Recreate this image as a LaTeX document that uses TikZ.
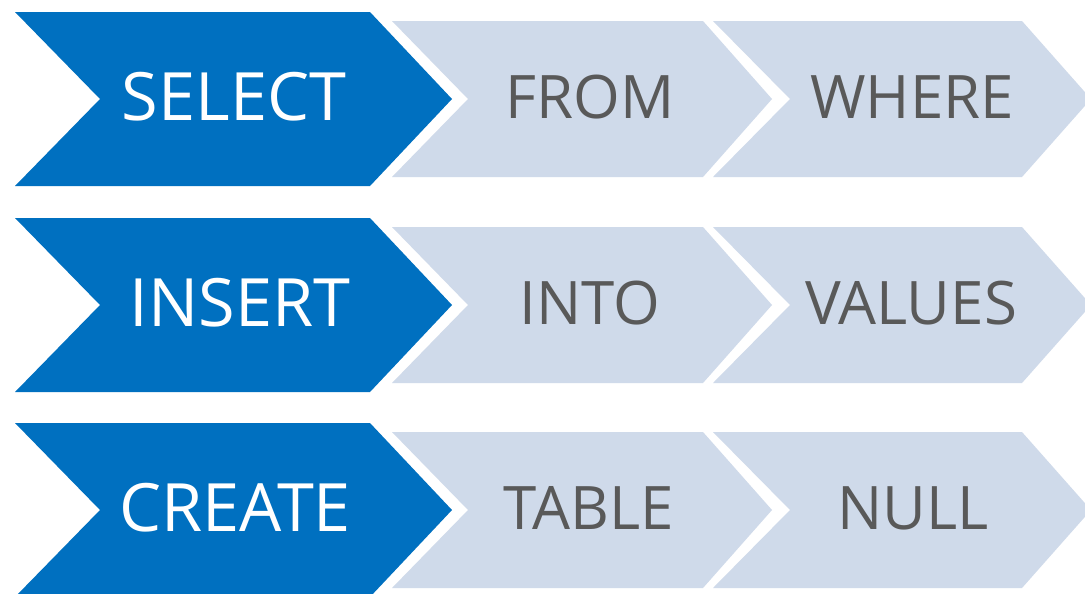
\documentclass[tikz,border=0pt]{standalone}
\usepackage{fontspec}
\setmainfont{Open Sans}
\definecolor{sqlblue}{RGB}{0,112,192}
\definecolor{sqllight}{RGB}{207,218,234}
\definecolor{sqltext}{RGB}{89,89,89}
\tikzset{
  bluetext/.style={text=white, font=\fontsize{50}{50}\selectfont, inner sep=0pt, anchor=center},
  lighttext/.style={text=sqltext, font=\fontsize{45}{45}\selectfont, inner sep=0pt, anchor=center},
}
\begin{document}
\begin{tikzpicture}[x=0.75pt,y=-0.75pt]
\useasboundingbox (0,0) rectangle (1085,593);
\fill[white] (0,0) rectangle (1085,593);
\begin{scope}
\clip (0,0) rectangle (1085,593);
\foreach \c/\i in {99/1,305/2,510/3}{
  % blue chevron
  \fill[sqlblue] (15,\c-87) -- (370,\c-87) -- (452,\c) -- (370,\c+87) -- (15,\c+87) -- (100,\c) -- cycle;
  % light chevron 1
  \fill[sqllight] (392,\c-78) -- (703,\c-78) -- (772,\c) -- (703,\c+78) -- (392,\c+78) -- (468,\c) -- cycle;
  % light chevron 2
  \fill[sqllight] (713,\c-78) -- (1022,\c-78) -- (1091,\c) -- (1022,\c+78) -- (713,\c+78) -- (790,\c) -- cycle;
}
\end{scope}
\node[bluetext] (select) at (234,97) {SELECT};
\node[lighttext] (from) at (590,97) {FROM};
\node[lighttext] (where) at (912,97) {WHERE};
\node[bluetext] (insert) at (240,303) {INSERT};
\node[lighttext] (into) at (590,303) {INTO};
\node[lighttext] (values) at (911,303) {VALUES};
\node[bluetext] (create) at (235,508) {CREATE};
\node[lighttext] (table) at (589,508) {TABLE};
\node[lighttext] (null) at (913,508) {NULL};
\end{tikzpicture}
\end{document}
